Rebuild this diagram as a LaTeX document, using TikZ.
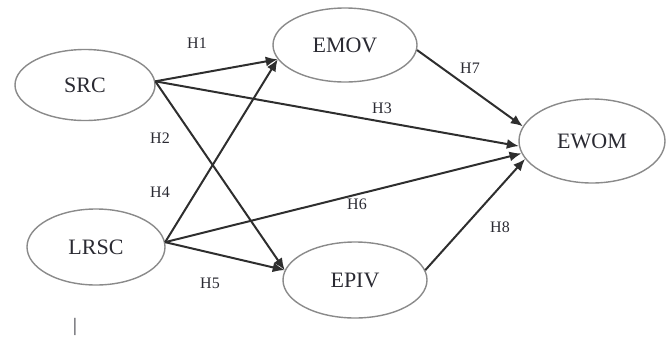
\documentclass[tikz,border=0pt]{standalone}
\usepackage{fontspec}
\setmainfont{Liberation Serif}
\usetikzlibrary{shapes.geometric,arrows.meta}
\definecolor{ellgray}{HTML}{8A8A8A}
\definecolor{linegray}{HTML}{2E2E2E}
\definecolor{txt}{HTML}{2A2A32}
\tikzset{
  construct/.style={ellipse, draw=ellgray, line width=1.4pt, inner sep=0pt,
    text=txt, font=\fontsize{22}{24}\selectfont},
  hyp/.style={text=txt, inner sep=0pt, font=\fontsize{16}{18}\selectfont},
  path/.style={draw=linegray, line width=2pt, -{Latex[length=12pt,width=10pt]}}
}
\begin{document}
\begin{tikzpicture}[x=1pt,y=-1pt]
\useasboundingbox (0,0) rectangle (670,338);
\node[construct, minimum width=140pt, minimum height=71pt] (src) at (85,85) {SRC};
\node[construct, minimum width=144pt, minimum height=74pt] (emov) at (345,45) {EMOV};
\node[construct, minimum width=146pt, minimum height=84pt] (ewom) at (592,141) {EWOM};
\node[construct, minimum width=138pt, minimum height=76pt] (lrsc) at (96,247) {LRSC};
\node[construct, minimum width=144pt, minimum height=76pt] (epiv) at (355,280) {EPIV};

\draw[path] (src.3) -- (emov.192);
\draw[path] (src.3) -- (ewom.184);
\draw[path] (src.3) -- (epiv.172);
\draw[path] (lrsc.4) -- (emov.192);
\draw[path] (lrsc.4) -- (epiv.172);
\draw[path] (lrsc.4) -- (ewom.190);
\draw[path] (emov.356) -- (ewom.168);
\draw[path] (epiv.8) -- (ewom.195);

\node[hyp] (h1) at (197,43) {H1};
\node[hyp] (h2) at (160,138) {H2};
\node[hyp] (h3) at (382,108) {H3};
\node[hyp] (h4) at (160,192) {H4};
\node[hyp] (h5) at (210,283) {H5};
\node[hyp] (h6) at (357,204) {H6};
\node[hyp] (h7) at (470,68) {H7};
\node[hyp] (h8) at (500,227) {H8};
\node[hyp, font=\fontsize{19}{21}\selectfont] (bar) at (75,327) {|};
\end{tikzpicture}
\end{document}
